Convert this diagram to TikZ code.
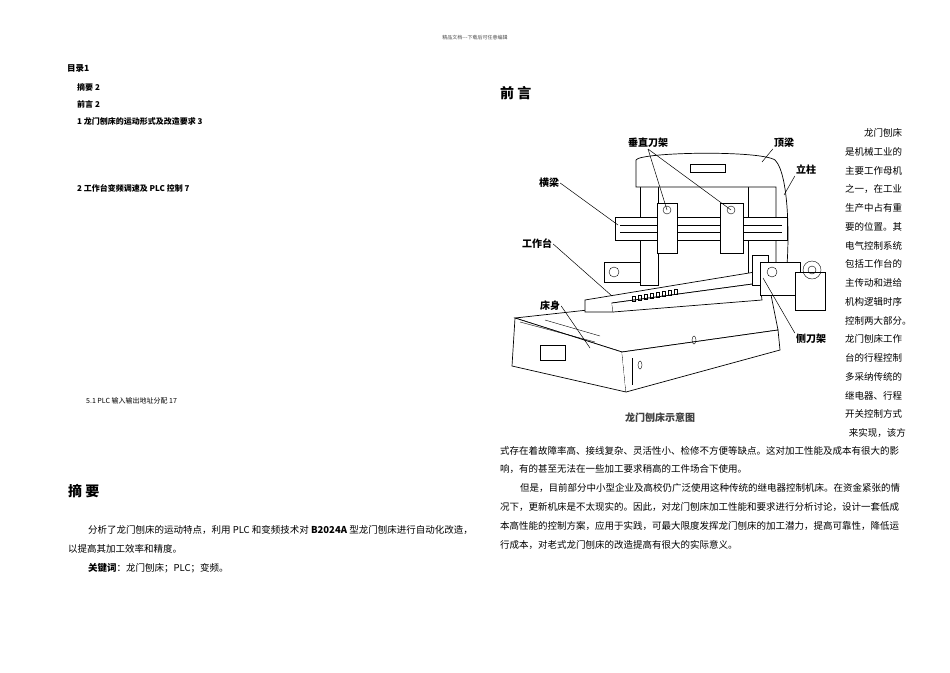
\documentclass[tikz,border=0pt]{standalone}
\usepackage{fontspec}
\setmainfont{Liberation Serif}
\newfontfamily\cjk{Noto Sans CJK SC}
\begin{document}
\begin{tikzpicture}[x=1pt,y=-1pt,
 txt/.style={anchor=west,inner sep=0pt,font=\cjk\fontsize{9.5}{10}\selectfont},
 toc/.style={anchor=west,inner sep=0pt,font=\cjk\bfseries\fontsize{8}{9}\selectfont},
 lab/.style={inner sep=1pt,font=\cjk\bfseries\fontsize{10}{11}\selectfont},
 lead/.style={draw=black,line width=0.5pt},
 mach/.style={draw=black,line width=0.7pt,fill=white}]
\useasboundingbox (0,0) rectangle (950,672);
\fill[white] (0,0) rectangle (950,672);
\node[inner sep=0pt,font=\cjk\fontsize{5}{6}\selectfont,text=black!70] (hdr) at (475,38) {精品文档---下载后可任意编辑};
% left column
\node[toc,font=\cjk\bfseries\itshape\fontsize{8.5}{9}\selectfont] (t0) at (67,68) {目录1};
\node[toc] (t1) at (77,87) {摘要 2};
\node[toc] (t2) at (77,104) {前言 2};
\node[toc] (t3) at (77,121) {1 龙门刨床的运动形式及改造要求 3};
\node[toc] (t4) at (77,188) {2 工作台变频调速及 PLC 控制 7};
\node[anchor=west,inner sep=0pt,font=\cjk\fontsize{7}{8}\selectfont] (t5) at (86,401) {5.1 PLC 输入输出地址分配 17};
\node[anchor=west,inner sep=0pt,font=\cjk\bfseries\fontsize{14}{15}\selectfont] (zy) at (68,491) {摘\ 要};
\node[txt] (a1) at (88,530) {分析了龙门刨床的运动特点，利用 PLC 和变频技术对 \textbf{B2024A} 型龙门刨床进行自动化改造，};
\node[txt] (a2) at (68,549) {以提高其加工效率和精度。};
\node[txt] (a3) at (88,568) {\textbf{关键词}：龙门刨床；PLC；变频。};
% right column
\node[anchor=west,inner sep=0pt,font=\cjk\bfseries\fontsize{14}{15}\selectfont] (qy) at (500,93) {前\ 言};
\foreach \t [count=\i] in {是机械工业的,主要工作母机,之一，在工业,生产中占有重,要的位置。其,电气控制系统,包括工作台的,主传动和进给,机构逻辑时序,控制两大部分。,龙门刨床工作,台的行程控制,多采纳传统的,继电器、行程,开关控制方式}
  \node[txt] (r\i) at (845,{133+18.75*\i}) {\t};
\node[txt] (r0) at (864,133) {龙门刨床};
\node[txt,anchor=east] (r16) at (906,433) {来实现，该方};
\node[txt] (p1) at (500,451) {式存在着故障率高、接线复杂、灵活性小、检修不方便等缺点。这对加工性能及成本有很大的影};
\node[txt] (p2) at (500,469) {响，有的甚至无法在一些加工要求稍高的工件场合下使用。};
\node[txt] (p3) at (520,488) {但是，目前部分中小型企业及高校仍广泛使用这种传统的继电器控制机床。在资金紧张的情};
\node[txt] (p4) at (500,507) {况下，更新机床是不太现实的。因此，对龙门刨床加工性能和要求进行分析讨论，设计一套低成};
\node[txt] (p5) at (500,526) {本高性能的控制方案，应用于实践，可最大限度发挥龙门刨床的加工潜力，提高可靠性，降低运};
\node[txt] (p6) at (500,545) {行成本，对老式龙门刨床的改造提高有很大的实际意义。};
% machine drawing
\draw[mach] (515,318) -- (770,290) -- (778,330) -- (622,352) -- cycle;
\draw[mach] (515,318) -- (622,352) -- (626,392) -- (512,366) -- cycle;
\draw[mach] (622,352) -- (778,330) -- (780,350) -- (626,392);
\draw[mach] (540,345) rectangle (565,360);
\draw[black] (520,322) -- (595,342) (545,320) -- (600,336);
\draw[black] (632,358) -- (632,385);
\draw[black] (640,365) ellipse (2 and 4) (694,340) ellipse (2 and 4);
\draw[mach] (640,178) rectangle (658,285);
\draw[mach] (748,178) rectangle (776,285);
\draw[mach] (636,170) -- (636,160) .. controls (640,152) and (760,150) .. (775,160) .. controls (790,175) and (790,250) .. (785,285) -- (776,285) -- (776,187) -- (636,187) -- cycle;
\draw[black] (690,164) rectangle (725,172);
\draw[mach] (585,300) -- (755,272) -- (760,283) -- (612,303) -- (613,312) -- (585,312) -- cycle;
\draw[mach] (612,303) -- (760,283) -- (762,300) -- (613,312);
\foreach \k in {0,...,7} \draw[black] ({632+6*\k},{296-\k}) rectangle +(3,5);
\draw[mach] (615,217) rectangle (787,240);
\draw[black] (620,225) -- (782,225) (620,232) -- (782,232);
\draw[mach] (657,203) rectangle (677,253);
\draw[mach] (720,203) rectangle (743,253);
\draw[black] (667,210) circle (4) (731,210) circle (4);
\draw[mach] (752,255) rectangle (768,285);
\draw[mach] (760,262) rectangle (800,295);
\draw[mach] (795,272) rectangle (825,310);
\draw[black] (812,270) circle (9) (812,270) circle (4) (772,272) circle (5);
\draw[mach] (604,262) rectangle (640,282);
\draw[black] (614,272) circle (5);
% labels
\node[lab] (lc) at (648,143) {垂直刀架};
\node[lab] (ld) at (784,143) {顶梁};
\node[lab] (ll) at (806,170) {立柱};
\node[lab] (lh) at (549,183) {横梁};
\node[lab] (lg) at (537,244) {工作台};
\node[lab] (lb) at (550,306) {床身};
\node[lab] (ls) at (811,339) {侧刀架};
\node[inner sep=0pt,font=\cjk\bfseries\fontsize{10}{11}\selectfont,text=black!75] (cap) at (660,418) {龙门刨床示意图};
\coordinate (h1) at (667,210); \coordinate (h2) at (731,210);
\draw[lead] (lc.south) -- (h1); \draw[lead] (lc.south) -- (h2);
\coordinate (d1) at (762,162); \draw[lead] (ld.south west) -- (d1);
\coordinate (c1) at (784,195); \draw[lead] (ll.south west) -- (c1);
\coordinate (b1) at (618,225); \draw[lead] (lh.east) -- (b1);
\coordinate (g1) at (612,296); \draw[lead] (lg.east) -- (g1);
\coordinate (e1) at (590,348); \draw[lead] (lb.east) -- (e1);
\coordinate (s1) at (763,278); \draw[lead] (ls.north west) -- (s1);
\end{tikzpicture}
\end{document}
